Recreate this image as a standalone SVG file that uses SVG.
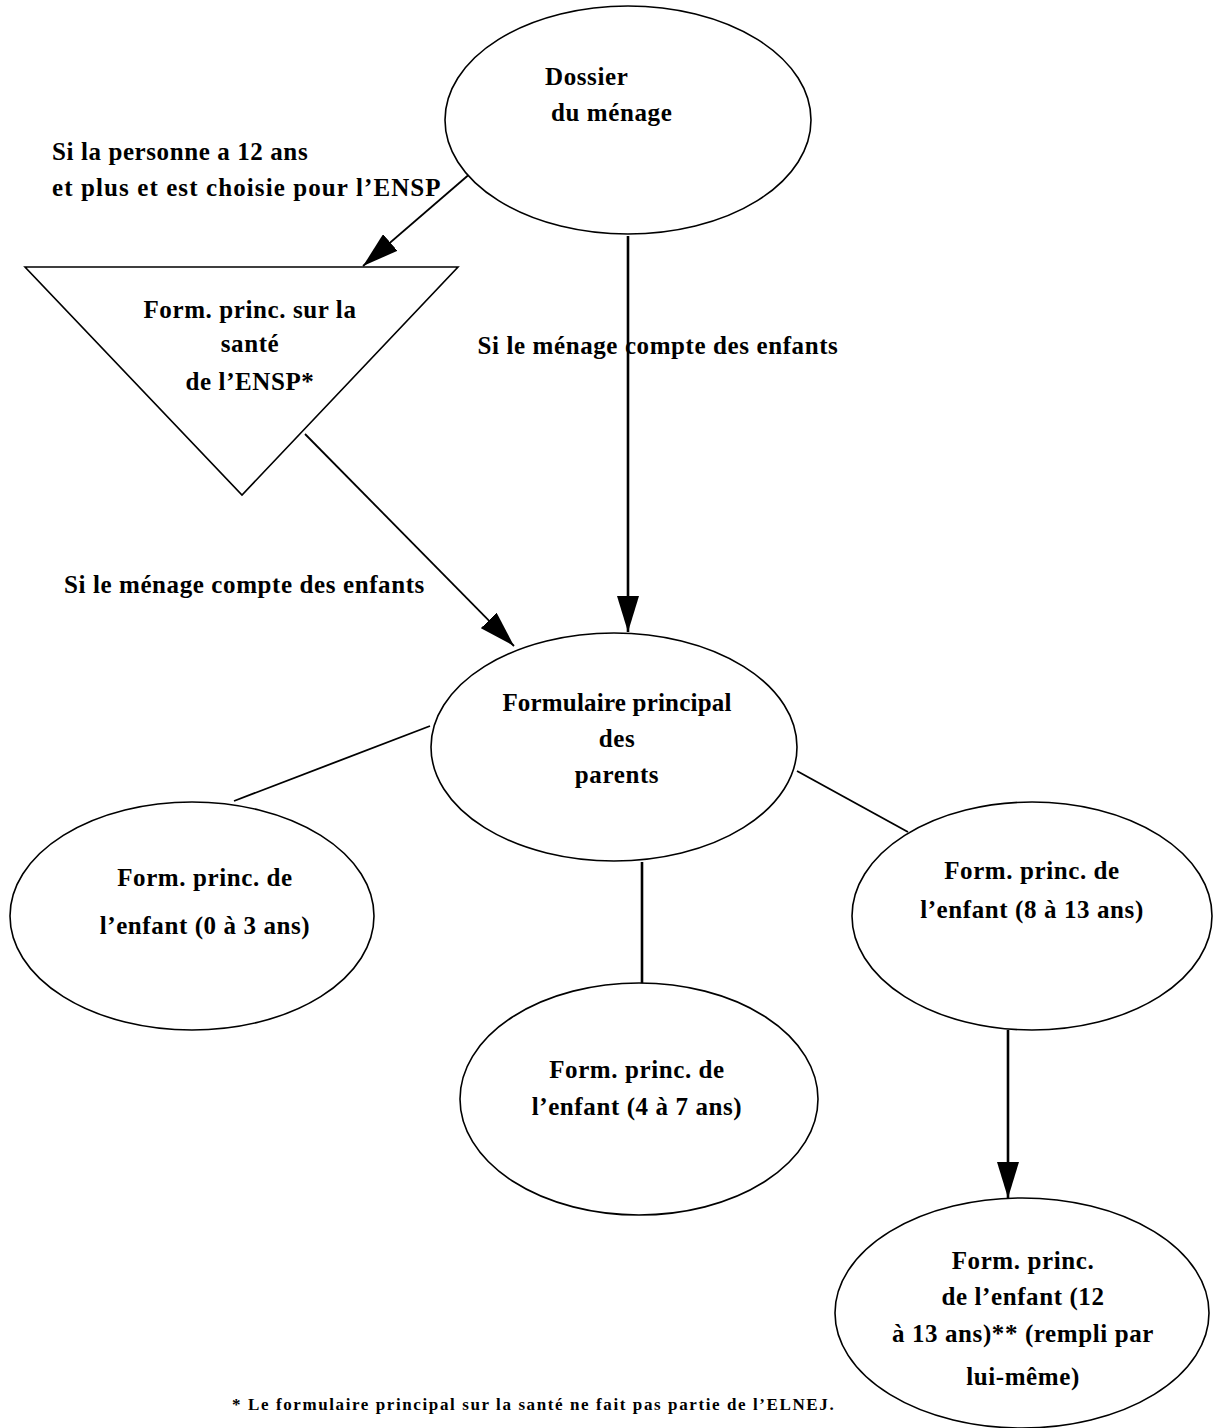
<svg xmlns="http://www.w3.org/2000/svg" width="1213" height="1428" viewBox="0 0 1213 1428">
<style>
.shape{fill:#fff;stroke:#000;stroke-width:1.6}
.t{font-family:"Liberation Serif","Times New Roman",serif;font-weight:bold;font-size:25px;letter-spacing:0.6px;fill:#000}
.c{text-anchor:middle}
.ln{stroke:#000;stroke-width:1.8;fill:none}
.lv{stroke:#000;stroke-width:2.6;fill:none}
.fn{font-family:"Liberation Serif","Times New Roman",serif;font-weight:bold;font-size:17px;letter-spacing:1.6px;fill:#000}
</style>
<defs>
<marker id="ah" markerUnits="userSpaceOnUse" viewBox="0 0 36 22" refX="36" refY="11" markerWidth="36" markerHeight="22" orient="auto">
<path d="M0,0 L36,11 L0,22 Z" fill="#000"/>
</marker>
</defs>
<rect width="1213" height="1428" fill="#fff"/>
<g id="connectors">
<line class="ln" x1="472" y1="172" x2="363" y2="266" marker-end="url(#ah)"/>
<line class="lv" x1="628" y1="236" x2="628" y2="632" marker-end="url(#ah)"/>
<line class="ln" x1="305" y1="434" x2="514" y2="646" marker-end="url(#ah)"/>
<line class="ln" x1="430" y1="726" x2="234" y2="801"/>
<line class="ln" x1="797" y1="771" x2="908" y2="832"/>
<line class="lv" x1="642" y1="862" x2="642" y2="984"/>
<line class="lv" x1="1008" y1="1030" x2="1008" y2="1198" marker-end="url(#ah)"/>
</g>
<g id="label-ensp">
<text class="t" x="52" y="160">Si la personne a 12 ans</text>
<text class="t" x="52" y="196" style="letter-spacing:1.1px">et plus et est choisie pour l’ENSP</text>
</g>
<g id="label-enfants-right">
<text class="t c" x="658" y="354">Si le ménage compte des enfants</text>
</g>
<g id="label-enfants-left">
<text class="t" x="64" y="593">Si le ménage compte des enfants</text>
</g>
<g id="node-dossier">
<ellipse class="shape" cx="628" cy="120" rx="183" ry="114"/>
<text class="t" x="545" y="85">Dossier</text>
<text class="t" x="551" y="121">du ménage</text>
</g>
<g id="node-ensp">
<polygon class="shape" points="25,267 458,267 242,495"/>
<text class="t c" x="250" y="318">Form. princ. sur la</text>
<text class="t c" x="250" y="352">santé</text>
<text class="t c" x="250" y="390">de l’ENSP*</text>
</g>
<g id="node-parents">
<ellipse class="shape" cx="614" cy="747" rx="183" ry="114"/>
<text class="t c" x="617" y="711" style="letter-spacing:0.2px">Formulaire principal</text>
<text class="t c" x="617" y="747">des</text>
<text class="t c" x="617" y="783">parents</text>
</g>
<g id="node-0-3">
<ellipse class="shape" cx="192" cy="916" rx="182" ry="114"/>
<text class="t c" x="205" y="886">Form. princ. de</text>
<text class="t c" x="205" y="934">l’enfant (0 à 3  ans)</text>
</g>
<g id="node-4-7">
<ellipse class="shape" cx="639" cy="1099" rx="179" ry="116"/>
<text class="t c" x="637" y="1078">Form. princ. de</text>
<text class="t c" x="637" y="1115">l’enfant (4 à 7 ans)</text>
</g>
<g id="node-8-13">
<ellipse class="shape" cx="1032" cy="916" rx="180" ry="114"/>
<text class="t c" x="1032" y="879">Form. princ. de</text>
<text class="t c" x="1032" y="918">l’enfant (8 à 13 ans)</text>
</g>
<g id="node-12-13">
<ellipse class="shape" cx="1022" cy="1313" rx="187" ry="115"/>
<text class="t c" x="1023" y="1269">Form. princ.</text>
<text class="t c" x="1023" y="1305">de l’enfant (12</text>
<text class="t c" x="1023" y="1342">à 13 ans)** (rempli par</text>
<text class="t c" x="1023" y="1385">lui-même)</text>
</g>
<g id="footnote">
<text class="fn" x="232" y="1410">* Le formulaire principal sur la santé ne fait pas partie de l’ELNEJ.</text>
</g>
</svg>
